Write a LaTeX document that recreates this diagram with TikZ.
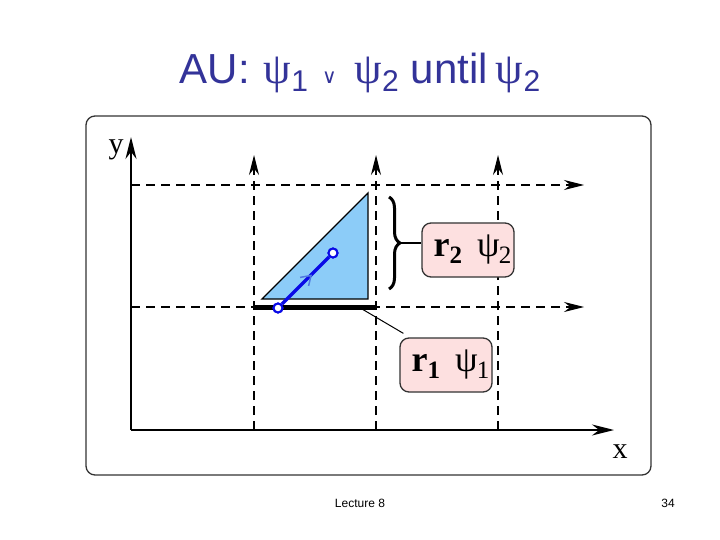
\documentclass[tikz,border=0pt]{standalone}
\usepackage{fontspec}
\setmainfont{Liberation Sans}
\newfontfamily\grk{Liberation Serif}
\newfontfamily\djvfont{DejaVu Sans}
\usetikzlibrary{arrows.meta,decorations.pathreplacing}
\definecolor{titleblue}{RGB}{51,51,153}
\definecolor{triblue}{RGB}{140,204,248}
\definecolor{boxpink}{RGB}{253,224,224}
\definecolor{segblue}{RGB}{10,10,230}
\definecolor{chevblue}{RGB}{80,120,225}
\tikzset{
  axisline/.style={line width=1.8pt,-{Stealth[length=22pt,width=11pt]}},
  gridline/.style={line width=1.1pt,dash pattern=on 9pt off 6pt,-{Stealth[length=20pt,width=10pt]}},
  labelbox/.style={draw=black!80,line width=1.3pt,fill=boxpink,rounded corners=9pt,minimum width=92pt,minimum height=54pt,inner sep=0pt},
  endpt/.style={circle,draw=segblue,line width=2pt,fill=white,minimum size=9pt,inner sep=0pt},
  axlabel/.style={font=\fontsize{30}{30}\selectfont\grk,inner sep=0pt},
}
\newcommand{\rbox}[1]{{\hspace{9pt}\fontsize{36}{36}\selectfont\grk\textbf{r}\raisebox{-7pt}{\fontsize{25}{25}\selectfont\textbf{#1}}\hspace{15pt}ψ\hspace{-1pt}\raisebox{-7pt}{\fontsize{25}{25}\selectfont #1}}}
\newcommand{\tpsi}{{\grk\fontsize{44}{44}\selectfont ψ}}
\newcommand{\tsub}[1]{\raisebox{-8pt}{\fontsize{30}{30}\selectfont #1}}
\begin{document}
\begin{tikzpicture}[x=1pt,y=-1pt]
\useasboundingbox[fill=white] (0,0) rectangle (720,540);
% title
\node[anchor=base,text=titleblue,inner sep=0pt] (title) at (360,84)
 {\fontsize{42}{42}\selectfont AU:\hspace{14pt}\tpsi\tsub{1}\hspace{14pt}{\djvfont\fontsize{20}{20}\selectfont ∨}\hspace{18pt}\tpsi\tsub{2}\hspace{12pt}until\hspace{8pt}\tpsi\tsub{2}};
% frame
\draw[line width=1.3pt,draw=black!80,rounded corners=9pt] (86,116) rectangle (651,475);
% coordinates
\coordinate (O) at (131,430);
\coordinate (ytip) at (131,137);
\coordinate (xtip) at (614,430);
\foreach \n/\x in {a/254,b/376,c/498}{
  \coordinate (v\n b) at (\x,430);
  \coordinate (v\n t) at (\x,155);
}
\foreach \n/\y in {a/185,b/307}{
  \coordinate (h\n l) at (131,\y);
  \coordinate (h\n r) at (584,\y);
}
% dashed grid
\foreach \n in {a,b,c}{\draw[gridline] (v\n b) -- (v\n t);}
\foreach \n in {a,b}{\draw[gridline] (h\n l) -- (h\n r);}
% axes
\draw[axisline] (O) -- (ytip);
\draw[axisline] (O) -- (xtip);
\node[axlabel] (ylab) at (116,150) {y};
\node[axlabel] (xlab) at (620,452) {x};
% triangle
\coordinate (t1) at (262,299);
\coordinate (t2) at (368,193);
\coordinate (t3) at (368,299);
\draw[fill=triblue,line width=1.4pt,line join=miter] (t1) -- (t2) -- (t3) -- cycle;
% thick bar
\coordinate (barl) at (254,307);
\coordinate (barr) at (376,307);
\draw[line width=5pt] (barl) -- (barr);
% blue segment
\node[endpt] (p1) at (278,308) {};
\node[endpt] (p2) at (333,253) {};
\draw[segblue,line width=3.5pt] (p1) -- (p2);
\draw[chevblue,line width=1.5pt,line join=miter] (308.6,285.9) -- (311,275.5) -- (300.1,277.4);
\node[endpt] at (p1) {};
\node[endpt] at (p2) {};
\fill[white] (p1) circle (1.2pt);
\fill[white] (p2) circle (1.2pt);
% brace
\draw[line width=3pt,decorate,decoration={brace,amplitude=11pt}] (389,197) -- (389,289);
\coordinate (bracetip) at (401,243);
% boxes
\node[labelbox] (r2) at (468,250) {\rbox{2}};
\node[labelbox] (r1) at (446,365) {\rbox{1}};
\draw[line width=2.2pt] (bracetip) -- (r2.west |- bracetip);
\coordinate (barpt) at (362,309);
\draw[line width=1pt] (barpt) -- ([xshift=4pt,yshift=4pt]r1.north west);
% footer
\node[font=\fontsize{12}{12}\selectfont,inner sep=0pt] (lect) at (360,503) {Lecture 8};
\node[font=\fontsize{12}{12}\selectfont,inner sep=0pt] (page) at (668,503) {34};
\end{tikzpicture}
\end{document}
